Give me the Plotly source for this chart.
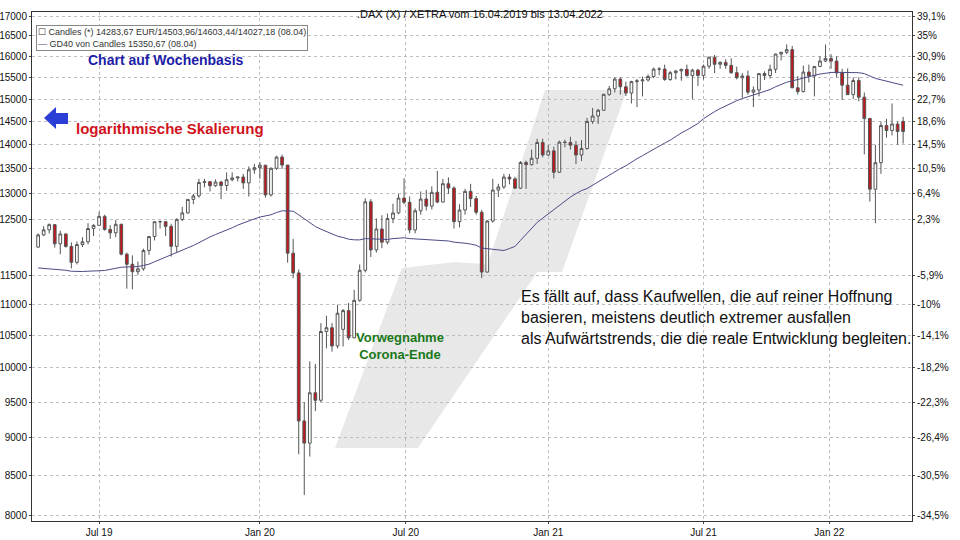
import pandas as pd
import plotly.graph_objects as go

# weekly DAX candles 15.04.2019 .. 11.04.2022
opens = [11999, 12222, 12315, 12412, 12060, 12239, 12011, 11727, 12045, 12096, 12340, 12399, 12568, 12323, 12260, 12419,
         11872, 11693, 11562, 11612, 11939, 12191, 12468, 12468, 12380, 12013, 12511, 12634, 12894, 12961, 13228, 13242,
         13163, 13236, 13166, 13282, 13318, 13337,
         13219, 13483, 13526, 13577, 12982, 13514, 13744, 13579, 11890, 11541, 9232, 8929, 9633, 9525, 10565, 10626,
         10337, 10600, 10904, 10465, 11074, 11587, 12848, 11949, 12331, 12089, 12528, 12633, 12920, 12838, 12313, 12674,
         12901, 12764, 13033, 12842, 13203, 13116, 12469, 12689, 13051, 12909, 12646, 11556, 12480, 13077, 13137, 13335,
         13298, 13114, 13631, 13587,
         13719, 14050, 13788, 13873, 13433, 14057, 14050, 13993, 13786, 13921, 14502, 14621, 14749, 15107, 15234, 15460,
         15280, 15136, 15400, 15417, 15438, 15520, 15693, 15693, 15448, 15608, 15650, 15688, 15540, 15669, 15544, 15761,
         15977, 15808, 15852, 15781, 15609, 15490, 15531, 15156, 15206, 15587, 15543, 15689, 16054, 16094, 16160, 15257,
         15169, 15623, 15532, 15756,
         15885, 15948, 15883, 15603, 15318, 15100, 15425, 15042, 14567, 13094, 13628, 14413, 14306, 14446, 14504]
highs = [12250, 12385, 12436, 12420, 12300, 12250, 12085, 12100, 12180, 12440, 12420, 12655, 12600, 12400, 12500, 12430,
         11900, 11850, 11740, 11970, 12200, 12470, 12490, 12480, 12430, 12530, 12750, 12900, 13000, 13300, 13300, 13260,
         13290, 13260, 13430, 13430, 13340, 13400,
         13550, 13600, 13640, 13580, 13530, 13770, 13795, 13580, 12150, 11600, 9500, 10100, 10060, 10700, 10820, 10700,
         11000, 10930, 11030, 11250, 11690, 12915, 12900, 12530, 12590, 12620, 12810, 13000, 13315, 12950, 12720, 13050,
         13080, 13150, 13460, 13300, 13330, 13150, 12800, 13100, 13200, 12960, 12690, 12500, 13300, 13200, 13400, 13400,
         13340, 13660, 13670, 13900,
         14130, 14130, 14000, 13960, 14090, 14110, 14170, 14080, 14100, 14580, 14800, 14780, 15120, 15300, 15500, 15500,
         15400, 15420, 15460, 15520, 15570, 15730, 15740, 15800, 15650, 15660, 15700, 15800, 15700, 15700, 15800, 15990,
         16030, 15880, 15930, 15950, 15750, 15600, 15660, 15290, 15600, 15640, 15800, 16060, 16110, 16290, 16250, 15530,
         15780, 15800, 15760, 16000,
         16285, 16050, 16000, 15700, 15710, 15500, 15500, 15150, 14580, 14000, 14500, 14560, 14900, 14500, 14603]
lows = [11990, 12200, 12250, 11990, 11870, 11990, 11620, 11690, 12000, 12050, 12200, 12390, 12300, 12150, 12180, 11850,
        11270, 11260, 11500, 11580, 11860, 12120, 12340, 12200, 11830, 11900, 12480, 12620, 12800, 12930, 13130, 13050,
        13140, 12900, 13060, 13250, 13250, 13100,
        12950, 13400, 13300, 12930, 12950, 13480, 13500, 11720, 11450, 8780, 8256, 8750, 9370, 9500, 10300, 10250,
        10300, 10330, 10430, 10460, 11050, 11550, 11820, 11900, 11980, 12050, 12440, 12610, 12800, 12250, 12250, 12600,
        12680, 12700, 12820, 12840, 13000, 12340, 12360, 12600, 12750, 12600, 11450, 11550, 12450, 12940, 13100, 13190,
        13100, 13100, 13100, 13570,
        13600, 13740, 13770, 13310, 13420, 13950, 13900, 13600, 13660, 13900, 14450, 14450, 14740, 15070, 15150, 15100,
        15070, 14900, 14820, 15060, 15400, 15480, 15550, 15420, 15420, 15450, 15420, 15520, 15000, 15300, 15450, 15700,
        15600, 15700, 15700, 15580, 15450, 15030, 15100, 14820, 15060, 15440, 15470, 15600, 15900, 16050, 15250, 15100,
        15150, 15380, 15060, 15740,
        15860, 15700, 15500, 14980, 15100, 15000, 14950, 13800, 12850, 12440, 13400, 14150, 14200, 14000, 14027]
closes = [12222, 12315, 12412, 12060, 12239, 12011, 11727, 12045, 12096, 12340, 12399, 12568, 12323, 12260, 12419, 11872,
          11693, 11562, 11612, 11939, 12191, 12468, 12468, 12380, 12013, 12511, 12634, 12894, 12961, 13228, 13242, 13163,
          13236, 13166, 13282, 13318, 13337, 13219,
          13483, 13526, 13577, 12982, 13514, 13744, 13579, 11890, 11541, 9232, 8929, 9633, 9525, 10565, 10626, 10337,
          10861, 10904, 10465, 11074, 11587, 12848, 11949, 12331, 12089, 12528, 12633, 12920, 12838, 12313, 12674, 12901,
          12764, 13033, 12842, 13203, 13116, 12469, 12689, 13051, 12909, 12646, 11556, 12480, 13077, 13137, 13335, 13298,
          13114, 13631, 13587, 13719,
          14050, 13788, 13873, 13433, 14057, 14050, 13993, 13786, 13921, 14502, 14621, 14749, 15107, 15234, 15460, 15280,
          15136, 15400, 15417, 15438, 15520, 15693, 15693, 15448, 15608, 15650, 15688, 15540, 15669, 15544, 15761, 15977,
          15808, 15852, 15781, 15609, 15490, 15531, 15156, 15206, 15587, 15543, 15689, 16054, 16094, 16160, 15257, 15169,
          15623, 15532, 15756, 15885,
          15948, 15883, 15603, 15318, 15100, 15425, 15042, 14567, 13094, 13628, 14413, 14306, 14446, 14284, 14284]
# closes before the chart window, used to warm up the 40-week average
pre_closes = [12561, 12860, 12616, 12424, 12211, 12394, 12364, 11959, 12124, 12431, 12247, 12112, 11524, 11553, 11201,
              11519, 11529, 11341, 11193, 11257, 10788, 10866, 10634, 10559, 10767, 10887, 11205, 11282, 11181, 10907,
              11299, 11457, 11602, 11458, 11686, 11364, 11526, 12010, 11999]

price_ticks = [8000, 8500, 9000, 9500, 10000, 10500, 11000, 11500, 12500, 13000, 13500, 14000, 14500, 15000, 15500,
               16000, 16500, 17000]
x_tick_pos = [11, 40, 66.3, 92, 120, 142.7]
x_tick_text = ["Jul 19", "Jan 20", "Jul 20", "Jan 21", "Jul 21", "Jan 22"]

n = len(closes)
x = list(range(n))
ma = pd.Series(pre_closes + closes).rolling(40).mean().iloc[len(pre_closes):].tolist()


def pct(v):
    s = f"{(v / closes[0] - 1) * 100:.1f}".replace(".", ",")
    return (s[:-2] if s.endswith(",0") else s) + "%"


W, H = 960, 540
L, R, T, B = 32, 912, 12, 521


def px(xp, yp):
    return (xp - L) / (R - L), (B - yp) / (B - T)


def poly(pts):
    p = [px(a, b) for a, b in pts]
    return "M " + " L ".join(f"{a:.4f},{b:.4f}" for a, b in p) + " Z"


fig = go.Figure()
fig.add_trace(go.Candlestick(
    x=x, open=opens, high=highs, low=lows, close=closes,
    increasing=dict(fillcolor="white", line=dict(color="#555555", width=1)),
    decreasing=dict(fillcolor="#c4161c", line=dict(color="#555555", width=1)),
    whiskerwidth=0, showlegend=False, hoverinfo="skip",
))
fig.add_trace(go.Scatter(x=x, y=ma, mode="lines", line=dict(color="#4b4b86", width=1), showlegend=False))
fig.add_trace(go.Scatter(x=x, y=closes, yaxis="y2", mode="lines", line=dict(width=0), opacity=0,
                         showlegend=False, hoverinfo="skip"))

ylo, yhi = 3.8998, 4.2331
fig.update_layout(
    width=W, height=H, margin=dict(l=L, r=W - R, t=T, b=H - B, autoexpand=False),
    paper_bgcolor="white", plot_bgcolor="white",
    font=dict(family="Liberation Sans, Arial", size=11, color="#111"),
    xaxis=dict(range=[-1.1, 157.6], tickvals=x_tick_pos, ticktext=x_tick_text, rangeslider=dict(visible=False),
               showgrid=True, gridcolor="#bdbdbd", griddash="dot", zeroline=False, automargin=False,
               showline=True, linecolor="#333", mirror=True, ticks="outside", ticklen=2,
               tickfont=dict(size=10)),
    yaxis=dict(type="log", range=[ylo, yhi], tickvals=price_ticks, ticktext=[str(v) for v in price_ticks],
               showgrid=True, gridcolor="#bdbdbd", griddash="dot", zeroline=False, automargin=False,
               showline=True, linecolor="#333", ticks="outside", ticklen=2, tickfont=dict(size=10)),
    yaxis2=dict(type="log", range=[ylo, yhi], overlaying="y", side="right", tickvals=price_ticks, automargin=False,
                ticktext=[pct(v) for v in price_ticks], showgrid=False, showline=True, linecolor="#333",
                ticks="outside", ticklen=2, tickfont=dict(size=10)),
)

# grey watermark slash
fig.add_shape(type="path", xref="paper", yref="paper", layer="below", line=dict(width=0), fillcolor="#e8e8e8",
              path=poly([(335, 448), (418, 448), (540, 268), (455, 262), (402, 268)]))
fig.add_shape(type="path", xref="paper", yref="paper", layer="below", line=dict(width=0), fillcolor="#e8e8e8",
              path=poly([(485, 272), (562, 272), (627, 90), (545, 90)]))
# blue arrow
fig.add_shape(type="path", xref="paper", yref="paper", line=dict(width=0), fillcolor="#2b3fd6",
              path=poly([(44, 118), (56, 107), (56, 113), (68, 113), (68, 124), (56, 124), (56, 129)]))


def note(xp, yp, text, **kw):
    a, b = px(xp, yp)
    fig.add_annotation(x=a, y=b, xref="paper", yref="paper", text=text, showarrow=False, **kw)


note(480, 6, ".DAX (X) / XETRA vom 16.04.2019 bis 13.04.2022", xanchor="center", font=dict(size=11))
note(36, 25, "☐ Candles (*) 14283,67 EUR/14503,96/14603,44/14027,18 (08.04)<br>"
     "<span style='color:#4b4b86'>—</span> GD40 von Candles 15350,67 (08.04)",
     xanchor="left", align="left", font=dict(size=9, color="#333"), bgcolor="white",
     bordercolor="#888", borderwidth=1, borderpad=1)
note(166, 50, "<b>Chart auf Wochenbasis</b>", xanchor="center", font=dict(size=14, color="#1c1ca8"))
note(74, 118, "<b>logarithmische Skalierung</b>", xanchor="left", font=dict(size=15, color="#d0141c"))
note(400, 364, "<b>Vorwegnahme<br>Corona-Ende</b>", xanchor="center", font=dict(size=13, color="#187818"))
note(519, 317, "Es fällt auf, dass Kaufwellen, die auf reiner Hoffnung<br>"
     "basieren, meistens deutlich extremer ausfallen<br>"
     "als Aufwärtstrends, die die reale Entwicklung begleiten.",
     xanchor="left", align="left", font=dict(size=16, color="#111"))

fig.write_html("out.html", config={"displayModeBar": False}, post_script="document.body.style.margin='0';")
